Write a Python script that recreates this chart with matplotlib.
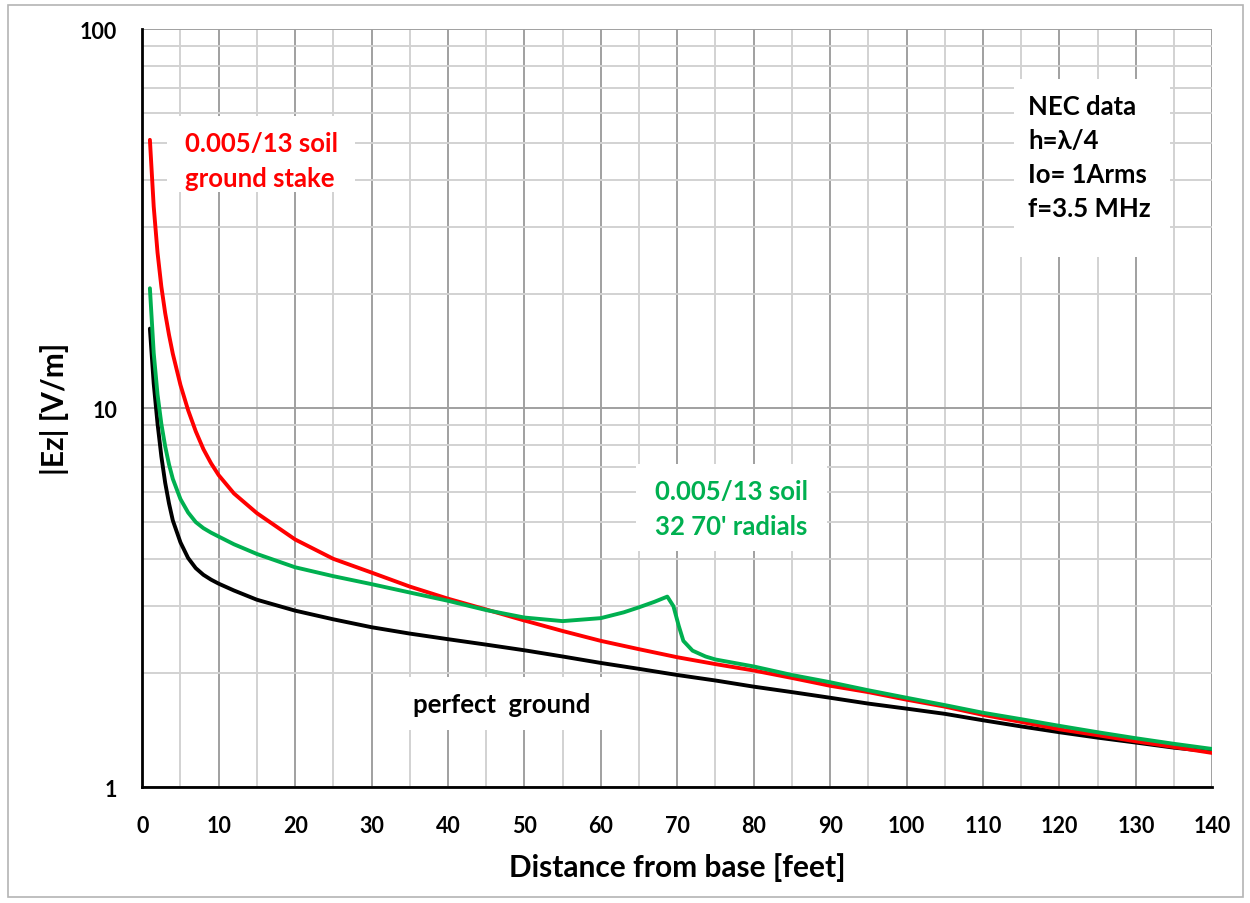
import matplotlib.pyplot as plt
from matplotlib.patches import Rectangle
from matplotlib.ticker import FixedLocator, NullFormatter

plt.rcParams['font.family'] = ['Lato', 'DejaVu Sans']
plt.rcParams['font.weight'] = 'bold'

# NEC field strength |Ez| vs distance from the base of a quarter-wave vertical
distance = [1, 1.5, 2, 2.5, 3, 3.5, 4, 5, 6, 7, 8, 9, 10, 12, 15, 20, 25, 30, 35,
            40, 45, 50, 55, 60, 65, 70, 75, 80, 85, 90, 95, 100, 105, 110, 115,
            120, 125, 130, 135, 140]
ez_perfect = [16.2, 11.6, 9.1, 7.45, 6.35, 5.6, 5.05, 4.42, 4.02, 3.78, 3.63,
              3.525, 3.44, 3.30, 3.12, 2.92, 2.77, 2.64, 2.54, 2.455, 2.375,
              2.295, 2.21, 2.125, 2.05, 1.975, 1.91, 1.84, 1.78, 1.72, 1.66, 1.61,
              1.56, 1.50, 1.445, 1.395, 1.35, 1.31, 1.27, 1.24]
ez_stake = [51, 34.0, 25.7, 20.9, 17.8, 15.6, 13.9, 11.5, 9.87, 8.68, 7.79, 7.15,
            6.65, 5.95, 5.28, 4.50, 4.0, 3.68, 3.38, 3.14, 2.94, 2.75, 2.58, 2.43,
            2.31, 2.20, 2.11, 2.03, 1.94, 1.85, 1.78, 1.70, 1.63, 1.55, 1.485,
            1.42, 1.37, 1.32, 1.275, 1.23]

radial_distance = [1, 1.5, 2, 2.5, 3, 3.5, 4, 5, 6, 7, 8, 9, 10, 12, 15, 20, 25,
                   30, 35, 40, 45, 50, 55, 60, 63, 65, 67, 68.7, 69.5, 70.2,
                   70.8, 72, 73.7, 75, 80, 85, 90, 95, 100, 105, 110, 115, 120,
                   125, 130, 135, 140]
ez_radials = [20.7, 13.97, 10.85, 9.08, 7.92, 7.1, 6.5, 5.75, 5.3, 5.0, 4.82,
              4.69, 4.58, 4.37, 4.12, 3.8, 3.6, 3.43, 3.26, 3.10, 2.93, 2.80,
              2.74, 2.79, 2.89, 2.98, 3.08, 3.18, 3.0, 2.66, 2.43, 2.29, 2.21,
              2.17, 2.08, 1.975, 1.89, 1.80, 1.72, 1.645, 1.57, 1.51, 1.45,
              1.395, 1.345, 1.30, 1.26]

fig = plt.figure(figsize=(12.5, 9.04), dpi=100)
fig.patches.append(Rectangle((8 / 1250, 6 / 904), 1235 / 1250, 892 / 904,
                             transform=fig.transFigure, fill=False,
                             edgecolor='#b4b4b4', lw=1.2))
ax = fig.add_axes([0.1138, 0.1283, 0.856, 0.8385])

ax.set_yscale('log')
ax.set_xlim(0, 140)
ax.set_ylim(1, 100)
ax.set_xticks(range(0, 141, 10))
ax.set_xticks(range(5, 140, 10), minor=True)
ax.set_yticks([1, 10, 100])
ax.set_yticklabels(['1', '10', '100'])
ax.yaxis.set_minor_locator(FixedLocator([m * d for d in (1, 10) for m in range(2, 10)]))
ax.yaxis.set_minor_formatter(NullFormatter())
ax.grid(which='major', color='#a0a0a0', lw=1.4)
ax.grid(which='minor', color='#d2d2d2', lw=1.4)
ax.tick_params(which='both', length=0)
ax.tick_params(axis='x', pad=20, labelsize=15.5)
ax.tick_params(axis='y', pad=18, labelsize=15.5)
for side in ('top', 'right'):
    ax.spines[side].set_visible(False)
for side in ('left', 'bottom'):
    ax.spines[side].set_linewidth(2)

line_kw = dict(lw=2.8, zorder=3, solid_joinstyle='round', solid_capstyle='round')
ax.plot(distance, ez_perfect, color='black', **line_kw)
ax.plot(distance, ez_stake, color='#ff0000', **line_kw)
ax.plot(radial_distance, ez_radials, color='#00b050', **line_kw)

ax.set_xlabel('Distance from base [feet]', fontsize=21.5, fontweight='bold',
              labelpad=12)
ax.set_ylabel('|Ez| [V/m]', fontsize=21.5, fontweight='bold', labelpad=8)

# white text boxes over the grid
boxes = [(0.0231, 0.785, 0.1757, 0.1003),
         (0.4614, 0.312, 0.1785, 0.1135),
         (0.8147, 0.6992, 0.1458, 0.2348),
         (0.236, 0.0752, 0.2093, 0.0699)]
for bx, by, bw, bh in boxes:
    ax.add_patch(Rectangle((bx, by), bw, bh, transform=ax.transAxes,
                           facecolor='white', edgecolor='none', zorder=2))

ax.text(0.040, 0.8265, '0.005/13 soil\nground stake', transform=ax.transAxes,
        color='#ff0000', fontsize=18.5, va='center', linespacing=1.55, zorder=4)
ax.text(0.479, 0.3668, "0.005/13 soil\n32 70' radials", transform=ax.transAxes,
        color='#00b050', fontsize=18.5, va='center', linespacing=1.55, zorder=4)
ax.text(0.8278, 0.8305, 'NEC data\nh=\u03bb/4\nIo= 1Arms\nf=3.5 MHz',
        transform=ax.transAxes, color='black', fontsize=18.5, va='center',
        linespacing=1.5, zorder=4)
ax.text(0.253, 0.1095, 'perfect  ground', transform=ax.transAxes,
        color='black', fontsize=18.5, va='center', zorder=4)

fig.savefig('out.png', dpi=100)
